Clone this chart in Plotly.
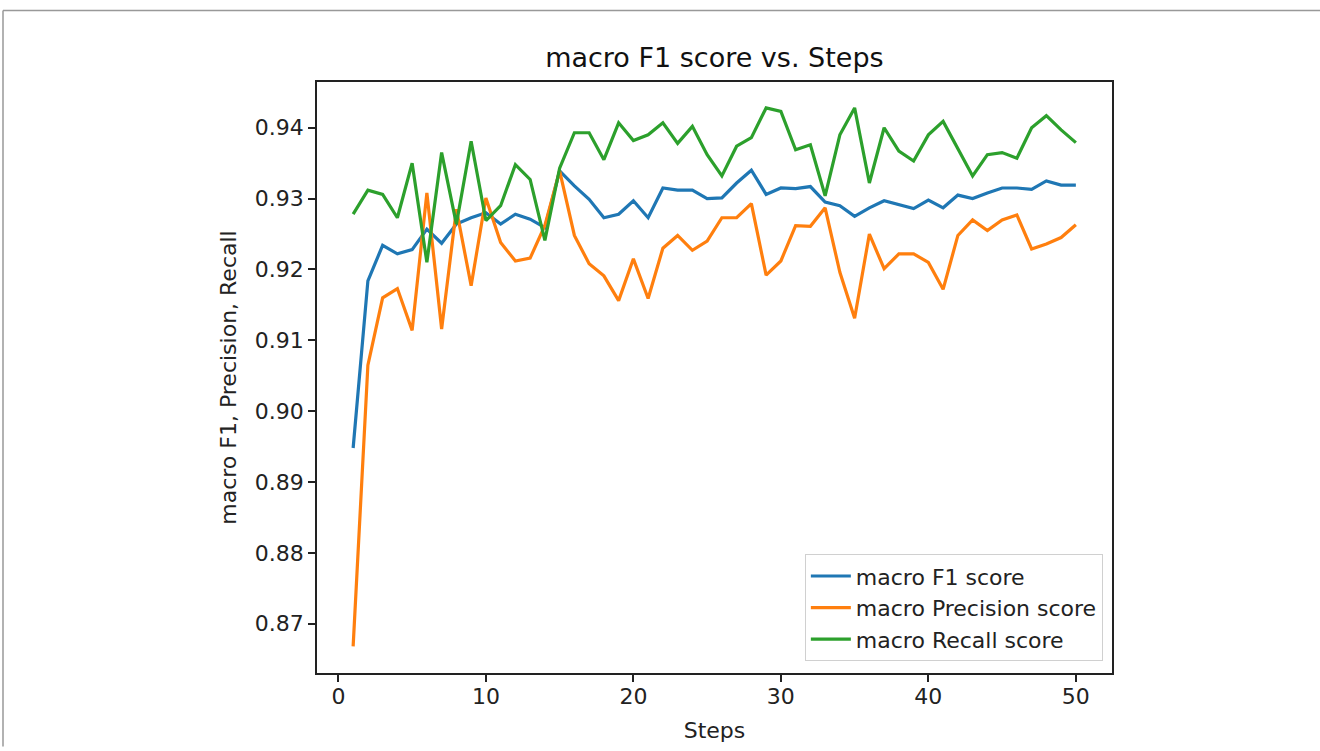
import plotly.graph_objects as go

steps = list(range(1, 51))

f1_score = [0.8948, 0.9184, 0.9234, 0.9222, 0.9228, 0.9257, 0.9237, 0.9264, 0.9273, 0.9280,
            0.9264, 0.9278, 0.9271, 0.9259, 0.9339, 0.9318, 0.9299, 0.9273, 0.9278, 0.9297,
            0.9273, 0.9315, 0.9312, 0.9312, 0.9300, 0.9301, 0.9322, 0.9340, 0.9306, 0.9315,
            0.9314, 0.9317, 0.9295, 0.9290, 0.9275, 0.9287, 0.9297, 0.9292, 0.9286, 0.9298,
            0.9287, 0.9305, 0.9300, 0.9308, 0.9315, 0.9315, 0.9313, 0.9325, 0.9319, 0.9319]

precision_score = [0.8668, 0.9065, 0.9160, 0.9173, 0.9114, 0.9308, 0.9116, 0.9285, 0.9177, 0.9301,
                   0.9238, 0.9212, 0.9216, 0.9262, 0.9339, 0.9248, 0.9208, 0.9191, 0.9156, 0.9215,
                   0.9159, 0.9230, 0.9248, 0.9227, 0.9240, 0.9273, 0.9273, 0.9293, 0.9192, 0.9212,
                   0.9262, 0.9261, 0.9287, 0.9196, 0.9131, 0.9250, 0.9201, 0.9222, 0.9222, 0.9210,
                   0.9172, 0.9248, 0.9270, 0.9255, 0.9270, 0.9277, 0.9229, 0.9236, 0.9245, 0.9263]

recall_score = [0.9278, 0.9312, 0.9306, 0.9273, 0.9350, 0.9210, 0.9365, 0.9264, 0.9381, 0.9269,
                0.9290, 0.9348, 0.9327, 0.9241, 0.9343, 0.9393, 0.9393, 0.9355, 0.9407, 0.9382,
                0.9390, 0.9407, 0.9378, 0.9402, 0.9362, 0.9332, 0.9374, 0.9386, 0.9428, 0.9423,
                0.9369, 0.9376, 0.9304, 0.9390, 0.9428, 0.9322, 0.9400, 0.9367, 0.9353, 0.9390,
                0.9409, 0.9370, 0.9332, 0.9362, 0.9365, 0.9357, 0.9400, 0.9417, 0.9397, 0.9379]

series_names = ["macro F1 score", "macro Precision score", "macro Recall score"]
series_colors = ["#1f77b4", "#ff7f0e", "#2ca02c"]

x_ticks = [0, 10, 20, 30, 40, 50]
y_ticks = [0.87, 0.88, 0.89, 0.90, 0.91, 0.92, 0.93, 0.94]

FONT = "DejaVu Sans"

fig = go.Figure()
for name, vals, col in zip(series_names, [f1_score, precision_score, recall_score], series_colors):
    fig.add_trace(go.Scatter(x=steps, y=vals, mode="lines", name=name,
                             line=dict(color=col, width=3.2)))

axis_common = dict(showline=True, linecolor="#222", linewidth=1.6, mirror=True,
                   ticks="outside", ticklen=7, tickwidth=1.6, tickcolor="#222",
                   showgrid=False, zeroline=False,
                   tickfont=dict(family=FONT, size=22, color="#222"))

fig.update_layout(
    width=1320, height=751,
    margin=dict(l=317, r=208, t=82, b=74),
    paper_bgcolor="white", plot_bgcolor="white",
    title=dict(text="macro F1 score vs. Steps", x=0.5412, xanchor="center",
               y=1 - 58 / 751, yref="container", yanchor="middle",
               font=dict(family=FONT, size=27, color="#111")),
    xaxis=dict(range=[-1.45, 52.45], tickvals=x_ticks, ticklabelstandoff=-4,
               title=dict(text="Steps", font=dict(family=FONT, size=22, color="#222"), standoff=14),
               **axis_common),
    yaxis=dict(range=[0.86304, 0.94646], tickvals=y_ticks, tickformat=".2f",
               title=dict(text="macro F1, Precision, Recall",
                          font=dict(family=FONT, size=22, color="#222"), standoff=12),
               **axis_common),
    legend=dict(x=0.9885, y=0.02, xanchor="right", yanchor="bottom",
                bgcolor="rgba(255,255,255,0.8)", bordercolor="#d0d0d0", borderwidth=1,
                font=dict(family=FONT, size=22, color="#222"),
                itemwidth=40, tracegroupgap=0),
    showlegend=True,
)

# thin gray frame along top and left edges of the picture
fig.add_shape(type="line", xref="paper", yref="paper",
              x0=(3 - 317) / 795, x1=(1320 - 317) / 795,
              y0=(677 - 10) / 595, y1=(677 - 10) / 595,
              line=dict(color="#999", width=1.5))
fig.add_shape(type="line", xref="paper", yref="paper",
              x0=(3 - 317) / 795, x1=(3 - 317) / 795,
              y0=(677 - 10) / 595, y1=(677 - 751) / 595,
              line=dict(color="#999", width=1.5))

fig.write_html("out.html")
